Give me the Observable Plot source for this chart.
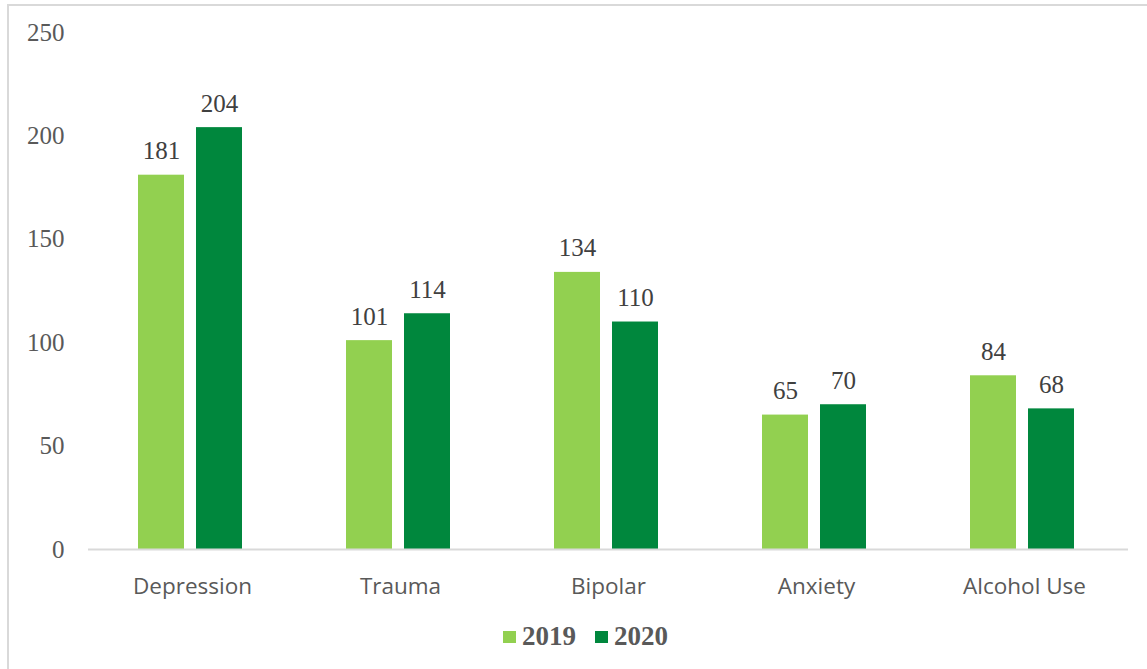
<!DOCTYPE html>
<html>
<head>
<meta charset="utf-8">
<script src="https://cdn.jsdelivr.net/npm/d3@7"></script>
<script src="https://cdn.jsdelivr.net/npm/@observablehq/plot@0.6"></script>
<style>
  html, body { margin: 0; padding: 0; background: #fff; }
  #wrap { position: relative; width: 1147px; height: 669px; overflow: hidden; }
  #frame { position: absolute; left: 7px; top: 4px; width: 1200px; height: 700px;
           border-left: 2px solid #d9d9d9; border-top: 2px solid #d9d9d9; box-sizing: border-box; }
  #chart { position: absolute; left: 0; top: 0; }
  #legend { position: absolute; left: 503px; top: 621px; display: flex; align-items: center;
            font-family: "Liberation Serif", serif; font-weight: bold; font-size: 27px; color: #595959; }
  .sw { display: inline-block; width: 13px; height: 12px; margin-right: 6px; }
  .item { display: flex; align-items: center; margin-right: 19px; }
</style>
</head>
<body>
<div id="wrap">
  <div id="frame"></div>
  <div id="chart"></div>
  <div id="legend"></div>
</div>
<script>
const categories = ["Depression", "Trauma", "Bipolar", "Anxiety", "Alcohol Use"];
const years = ["2019", "2020"];
const values2019 = [181, 101, 134, 65, 84];
const values2020 = [204, 114, 110, 70, 68];
const yTicks = [0, 50, 100, 150, 200, 250];
const colors = ["#92d050", "#00873d"];

const data = [];
categories.forEach((c, i) => {
  data.push({category: c, year: years[0], value: values2019[i]});
  data.push({category: c, year: years[1], value: values2020[i]});
});

const chart = Plot.plot({
  width: 1147,
  height: 615,
  marginTop: 32,
  marginBottom: 66,
  marginLeft: 86,
  marginRight: 17,
  style: {fontFamily: "Liberation Serif, serif", background: "transparent"},
  fx: {domain: categories, padding: 0, label: null},
  x: {domain: years, paddingInner: 0.203, paddingOuter: 0.873, align: 0.48, axis: null},
  y: {domain: [0, 250], label: null},
  color: {domain: years, range: colors},
  marks: [
    Plot.axisY({ticks: yTicks, tickSize: 0, tickPadding: 24, fontSize: 25, fill: "#595959",
                fontFamily: "Liberation Serif, serif", label: null}),
    Plot.axisFx({anchor: "bottom", tickSize: 0, tickPadding: 29, fontSize: 22.5, fill: "#595959",
                 fontFamily: "Open Sans, sans-serif", label: null}),
    Plot.barY(data, {fx: "category", x: "year", y: "value", fill: "year"}),
    Plot.ruleY([0], {stroke: "#d9d9d9", strokeWidth: 2}),
    Plot.text(data, {fx: "category", x: "year", y: "value", text: d => String(d.value),
                     lineAnchor: "bottom", dy: -16, fontSize: 25, fill: "#404040",
                     fontFamily: "Liberation Serif, serif"})
  ]
});
document.getElementById("chart").appendChild(chart);

const legend = document.getElementById("legend");
years.forEach((y, i) => {
  const item = document.createElement("div");
  item.className = "item";
  const sw = document.createElement("span");
  sw.className = "sw";
  sw.style.background = colors[i];
  const t = document.createElement("span");
  t.textContent = y;
  item.appendChild(sw);
  item.appendChild(t);
  legend.appendChild(item);
});
</script>
</body>
</html>
